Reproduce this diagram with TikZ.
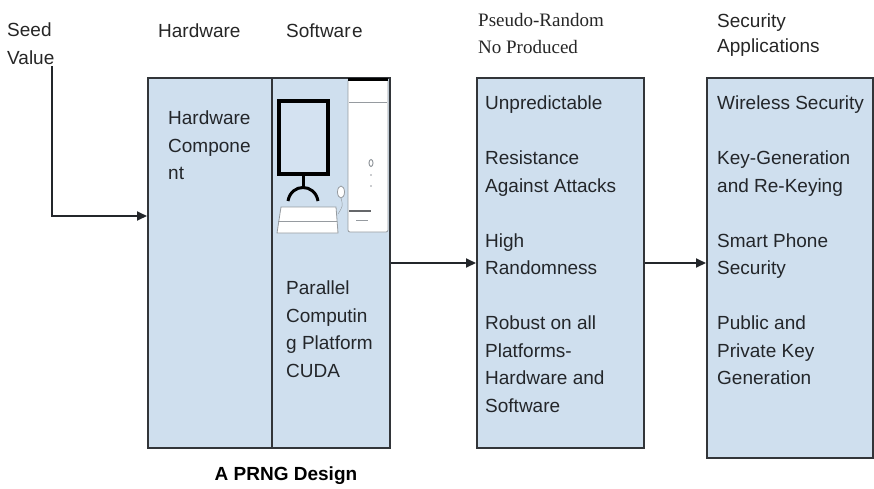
\documentclass[tikz,border=0pt]{standalone}
\usepackage{fontspec}
\setmainfont{Liberation Sans}
\newfontfamily\headserif{Liberation Serif}
\usetikzlibrary{arrows.meta}
\definecolor{ink}{RGB}{35,38,42}
\definecolor{frame}{RGB}{50,53,57}
\definecolor{boxfill}{RGB}{207,223,238}
\definecolor{screen}{RGB}{212,226,241}
\definecolor{case}{RGB}{150,155,160}
\tikzset{
  blk/.style={draw=frame,fill=boxfill,line width=2pt,anchor=north west,inner sep=0pt},
  arr/.style={-{Triangle[length=10pt,width=9pt]},line width=1.8pt,draw=ink},
  txt/.style={anchor=north west,inner sep=0pt,align=left,text=ink,
    font=\fontsize{19}{27.5}\selectfont,execute at begin node=\strut},
  head/.style={txt,text=black!85},
  part/.style={draw=case,line width=0.8pt,fill=white}
}
\begin{document}
\begin{tikzpicture}[x=1pt,y=-1pt]
  \useasboundingbox (0,0) rectangle (874,488);

  % headings over the columns
  \node[head] (seedlbl) at (7,23) {Seed\\Value};
  \node[head,anchor=base west] (hwhead) at (158,37) {Hardware};
  \node[head,anchor=base west] (swhead) at (286,37) {Softwar\kern1.5pt e};
  \node[head,font=\headserif\fontsize{19}{27}\selectfont] (rndhead) at (478,13.5) {Pseudo-Random\\No Produced};
  \node[head,font=\fontsize{19}{25}\selectfont] (apphead) at (717,13.5) {Security\\Applications};

  % blocks
  \node[blk,minimum width=124pt,minimum height=370pt] (hw) at (147,77) {};
  \node[blk,minimum width=118pt,minimum height=370pt] (sw) at (271,77) {};
  \node[blk,minimum width=167pt,minimum height=370pt] (prng) at (476,77) {};
  \node[blk,minimum width=166pt,minimum height=380pt] (apps) at (706,77) {};

  % desktop computer in the software column
  \draw[part,rounded corners=2pt] (348,79) rectangle (388,232);
  \draw[black,line width=3pt] (348,79.5) -- (388,79.5);
  \draw[case] (349,102) -- (387,102);
  \draw[case,line width=1pt] (371,163) ellipse (2pt and 3.5pt);
  \fill[case] (371,175) circle (0.9pt) (371,186) circle (0.9pt);
  \draw[ink!70,line width=1.2pt] (349,211) -- (371,211);
  \draw[case,line width=0.6pt] (356,220) -- (368,220);
  \draw[black,line width=4pt,fill=screen] (279,101) rectangle (328,174);
  \draw[black,line width=3pt] (303,176) -- (303,189);
  \draw[black,line width=3pt] (288,201) .. controls (291,183) and (315,183) .. (318,201);
  \draw[part] (281,207) -- (336,207) -- (338,233) -- (277,233) -- cycle;
  \draw[case] (278,221) -- (337,221);
  \draw[part] (341,192) ellipse (3.5pt and 6pt);
  \draw[case] (341,198) .. controls (343,206) .. (338,214);

  % texts inside the blocks
  \node[txt] (hwtxt) at (168,111) {Hardware\\Compone\\nt};
  \node[txt] (swtxt) at (286,281) {Parallel\\Computin\\g Platform\\CUDA};
  \node[txt] (prngtxt) at (485,96) {Unpredictable\\[27.5pt]Resistance\\Against Attacks\\[27.5pt]High\\Randomness\\[27.5pt]Robust on all\\Platforms-\\Hardware and\\Software};
  \node[txt] (appstxt) at (717,96) {Wireless Security\\[27.5pt]Key-Generation\\and Re-Keying\\[27.5pt]Smart Phone\\Security\\[27.5pt]Public and\\Private Key\\Generation};

  \node[font=\bfseries\fontsize{19}{23}\selectfont,anchor=base,text=black] (caption) at (286,480) {A PRNG Design};

  % flow
  \coordinate (seedend) at (52,66);
  \draw[arr] (seedend) |- (hw.west |- 0,216);
  \draw[arr] (sw.east) -- (prng.west);
  \draw[arr] (prng.east) -- (prng.east -| apps.west);
\end{tikzpicture}
\end{document}
